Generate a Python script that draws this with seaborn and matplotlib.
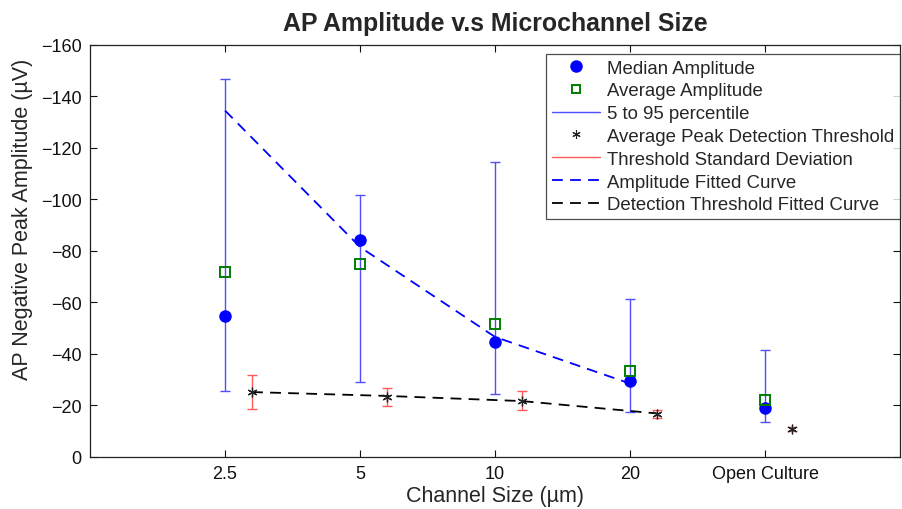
#!/usr/bin/env python3
import matplotlib

matplotlib.use("Agg")

import matplotlib.pyplot as plt
import numpy as np
import seaborn as sns
from matplotlib.lines import Line2D

CATEGORIES = ["2.5", "5", "10", "20", "Open Culture"]

MEDIAN_AMP = [-54.8, -84.3, -44.8, -29.6, -18.9]
AVERAGE_AMP = [-71.8, -75.0, -51.6, -33.5, -22.3]
P95_AMP = [-146.8, -101.7, -114.4, -61.2, -41.7]
P5_AMP = [-25.6, -29.1, -24.5, -17.6, -13.5]

THRESH_MEAN = [-25.1, -23.2, -21.9, -16.7, -10.8]
THRESH_SD = [6.6, 3.5, 3.6, 1.6, 0.8]

AMP_FIT = [-134.5, -81.5, -46.6, -28.5]
THRESH_FIT = [-25.2, -23.7, -21.7, -16.9]

BLUE = "#0000ff"
BAR_BLUE = "#4f4fff"
RED = "#ff5a5a"
GREEN = "#007f00"


def main() -> None:
    sns.set_theme(style="white")
    plt.rcParams.update(
        {
            "font.family": ["Liberation Sans", "DejaVu Sans"],
            "axes.edgecolor": "#222222",
            "axes.linewidth": 0.9,
            "xtick.direction": "in",
            "ytick.direction": "in",
            "xtick.major.size": 5,
            "ytick.major.size": 5,
            "xtick.major.width": 0.8,
            "ytick.major.width": 0.8,
            "xtick.top": True,
            "ytick.right": True,
            "xtick.bottom": True,
            "ytick.left": True,
        }
    )

    fig = plt.figure(figsize=(9.02, 5.10), dpi=100)
    ax = fig.add_axes([0.0998, 0.102, 0.8982, 0.808])

    pos = np.arange(1, len(CATEGORIES) + 1, dtype=float)
    tpos = pos + 0.2

    med = np.array(MEDIAN_AMP)
    lo = med - np.array(P95_AMP)
    hi = np.array(P5_AMP) - med
    ax.errorbar(pos, med, yerr=[lo, hi], fmt="none", ecolor=BAR_BLUE,
                elinewidth=1.0, capsize=3.5, capthick=1.0, zorder=2)
    ax.errorbar(tpos, THRESH_MEAN, yerr=THRESH_SD, fmt="none", ecolor=RED,
                elinewidth=1.0, capsize=3.5, capthick=1.0, zorder=2)

    sns.lineplot(x=pos[:4], y=AMP_FIT, color=BLUE, linewidth=1.3,
                 ax=ax, zorder=3, linestyle=(0, (6, 4)))
    sns.lineplot(x=tpos[:4], y=THRESH_FIT, color="black", linewidth=1.3,
                 ax=ax, zorder=3, linestyle=(0, (6, 4)))

    ax.plot(pos, MEDIAN_AMP, linestyle="none", marker="o", markersize=8,
            color=BLUE, zorder=4)
    ax.plot(pos, AVERAGE_AMP, linestyle="none", marker="s", markersize=6.5,
            markerfacecolor="none", markeredgecolor=GREEN, markeredgewidth=1.4, zorder=5)
    ax.plot(tpos, THRESH_MEAN, linestyle="none", marker=(6, 2, 0), markersize=7,
            color="#222222", markeredgewidth=0.9, zorder=5)

    ax.set_xlim(0, 6)
    ax.set_ylim(0, -160)
    ax.set_yticks(np.arange(-160, 1, 20))
    ax.set_yticklabels([f"\u2212{abs(v)}" if v else "0" for v in range(-160, 1, 20)])
    ax.set_xticks(pos)
    ax.set_xticklabels(CATEGORIES)
    ax.tick_params(axis="both", labelsize=13, colors="#111111", pad=6)

    ax.set_xlabel("Channel Size (\u00b5m)", fontsize=15.5, labelpad=2)
    ax.set_ylabel("AP Negative Peak Amplitude (\u00b5V)", fontsize=15.5)
    ax.yaxis.set_label_coords(-0.070, 0.578)
    ax.set_title("AP Amplitude v.s Microchannel Size", fontsize=17.9, weight="bold", pad=11)

    handles = [
        Line2D([], [], linestyle="none", marker="o", markersize=8, color=BLUE),
        Line2D([], [], linestyle="none", marker="s", markersize=6, markerfacecolor="none",
               markeredgecolor=GREEN, markeredgewidth=1.4),
        Line2D([], [], color=BAR_BLUE, linewidth=1.0),
        Line2D([], [], linestyle="none", marker=(6, 2, 0), markersize=6, color="#222222",
               markeredgewidth=0.8),
        Line2D([], [], color=RED, linewidth=1.0),
        Line2D([], [], color=BLUE, linewidth=1.3, linestyle=(0, (6, 4))),
        Line2D([], [], color="black", linewidth=1.3, linestyle=(0, (6, 4))),
    ]
    labels = [
        "Median Amplitude",
        "Average Amplitude",
        "5 to 95 percentile",
        "Average Peak Detection Threshold",
        "Threshold Standard Deviation",
        "Amplitude Fitted Curve",
        "Detection Threshold Fitted Curve",
    ]
    leg = ax.legend(handles, labels, loc="upper right", bbox_to_anchor=(1.0, 0.978),
                    fontsize=13.4, frameon=True, fancybox=False, edgecolor="#222222",
                    handlelength=2.6, handletextpad=0.4, labelspacing=0.31,
                    borderpad=0.3, borderaxespad=0.0)
    leg.get_frame().set_linewidth(0.9)

    fig.savefig("out.png", dpi=100)
    plt.close(fig)


if __name__ == "__main__":
    main()
